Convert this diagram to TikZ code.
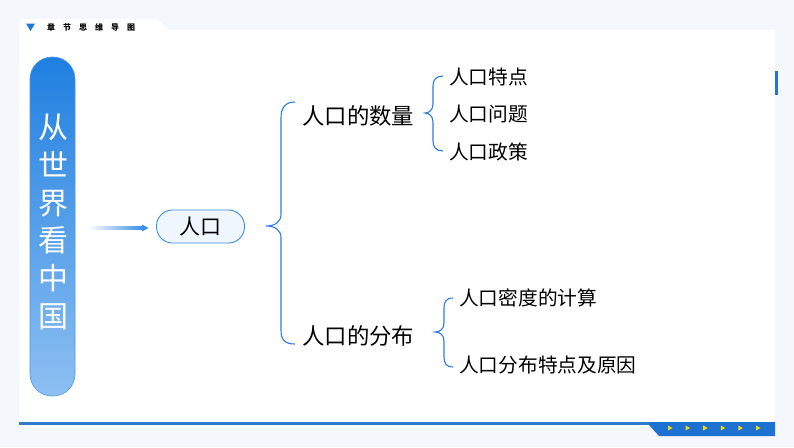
\documentclass[tikz,border=0pt]{standalone}
\usepackage{fontspec}
\setmainfont{Noto Sans CJK SC}
\usetikzlibrary{arrows.meta,shapes.misc}
\definecolor{bgc}{HTML}{F4F8FD}
\definecolor{mainblue}{HTML}{1E78DC}
\definecolor{bracec}{HTML}{2A7DE1}
\definecolor{pilltop}{HTML}{1F7FE0}
\definecolor{pillbot}{HTML}{8EC0F2}
\definecolor{nodefill}{HTML}{F0F6FE}
\definecolor{nodeborder}{HTML}{3A8EE6}
\definecolor{yel}{HTML}{F5D90A}
\tikzset{
  bracepath/.style={draw=bracec, line width=1.1pt},
  lvltwo/.style={anchor=west, inner sep=0pt, font=\fontsize{22.4}{26}\selectfont},
  lvlthree/.style={anchor=west, inner sep=0pt, font=\fontsize{19.7}{23}\selectfont},
}
\begin{document}
\begin{tikzpicture}[x=1pt,y=-1pt]
\useasboundingbox (0,0) rectangle (794,447);
% background
\fill[bgc] (0,0) rectangle (794,447);
% white panel with tab
\fill[white] (19,19) -- (157,19) -- (168,30) -- (775,30) -- (775,427) -- (19,427) -- cycle;
\shade[left color=white!0!bgc, right color=bgc] (775,30) rectangle (782,427);
% header
\fill[mainblue] (26,23.5) -- (35,23.5) -- (30.5,31) -- cycle;
\foreach \c [count=\i from 0] in {章,节,思,维,导,图}
  \node[inner sep=0pt, font=\fontsize{8}{9}\selectfont\bfseries] (h\i) at (51+16*\i,27.5) {\c};
% bottom line and band
\fill[mainblue!90!black!90] (19,422) rectangle (775,425);
\fill[mainblue!95!black] (649,422) -- (775,422) -- (775,436) -- (659,436) -- (649,425) -- cycle;
\foreach \i in {0,...,5}
  \fill[yel] (668+17.6*\i,425.5) -- (672.5+17.6*\i,428) -- (668+17.6*\i,430.5) -- cycle;
% right small bar
\fill[mainblue] (775,71) rectangle (778,95);
% left pill
\shade[top color=pilltop, bottom color=pillbot, rounded corners=22pt] (30,57) rectangle (75,396);
\draw[pilltop!80!white, line width=0.6pt, rounded corners=22pt] (30,57) rectangle (75,396);
\node[inner sep=0pt, align=center, text=white, font=\fontsize{30}{37.8}\selectfont] (title) at (53,222) {从\\世\\界\\看\\中\\国};
% arrow
\shade[left color=white, right color=nodeborder] (88,226.7) rectangle (143,229.3);
\coordinate (arrS) at (88,228);
\coordinate (arrE) at (148.5,228);
\fill[nodeborder] (142,224.5) -- (arrE) -- (142,231.5) -- cycle;
% root node
\node[draw=nodeborder, fill=nodefill, line width=0.9pt, rounded corners=16pt, minimum width=88pt, minimum height=33pt, inner sep=0pt, font=\fontsize{21}{24}\selectfont] (root) at (200.5,226.5) {人口};
% level 2
\node[lvltwo] (qty) at (302,116) {人口的数量};
\node[lvltwo] (dist) at (302,336) {人口的分布};
% level 3
\node[lvlthree] (q1) at (449,77) {人口特点};
\node[lvlthree] (q2) at (449,114) {人口问题};
\node[lvlthree] (q3) at (449,152) {人口政策};
\node[lvlthree] (d1) at (459,298) {人口密度的计算};
\node[lvlthree] (d2) at (459,365) {人口分布特点及原因};
% big brace
\coordinate (b0tip) at (266,226);
\draw[bracepath] (295,102) .. controls (285,102) and (281,108) .. (281,118) -- (281,214)
  .. controls (281,222) and (275,226) .. (b0tip)
  .. controls (275,226) and (281,230) .. (281,238) -- (281,330)
  .. controls (281,340) and (285,344) .. (295,344);
% brace 1
\coordinate (b1tip) at (425,113);
\draw[bracepath] (443,76) .. controls (436,76) and (433,80) .. (433,86) -- (433,104)
  .. controls (433,110) and (429,113) .. (b1tip)
  .. controls (429,113) and (433,116) .. (433,122) -- (433,141)
  .. controls (433,147) and (436,151) .. (443,151);
% brace 2
\coordinate (b2tip) at (435,332);
\draw[bracepath] (453,298) .. controls (446,298) and (444,302) .. (444,308) -- (444,323)
  .. controls (444,329) and (440,332) .. (b2tip)
  .. controls (440,332) and (444,335) .. (444,341) -- (444,357)
  .. controls (444,363) and (446,367) .. (453,367);
\end{tikzpicture}
\end{document}
